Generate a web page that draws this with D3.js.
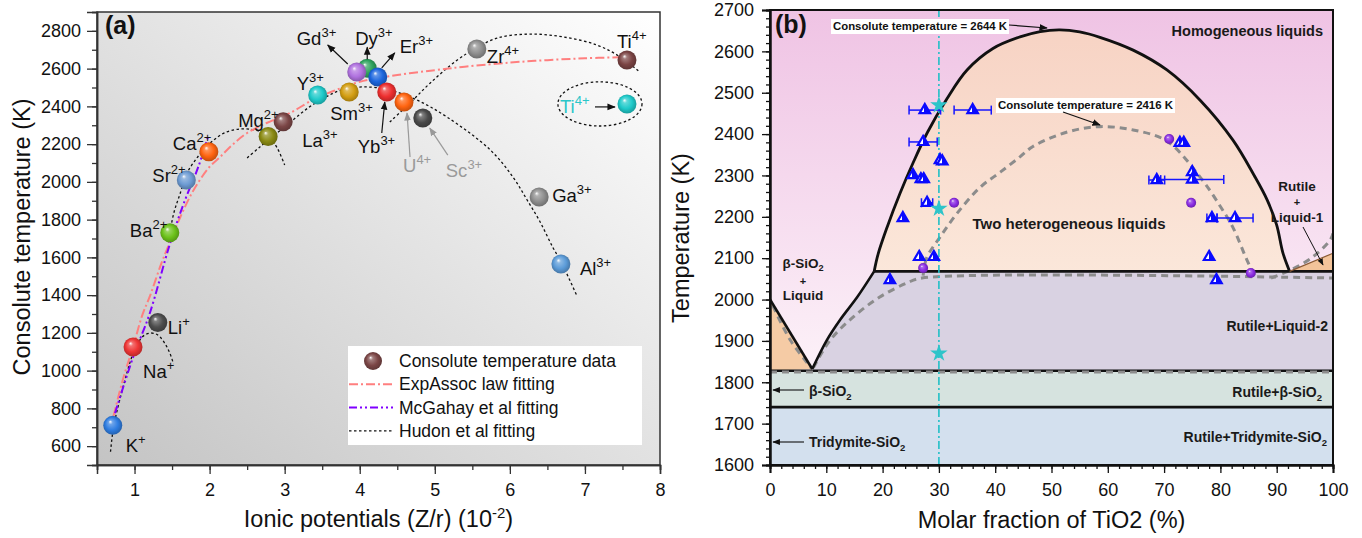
<!DOCTYPE html>
<html>
<head>
<meta charset="utf-8">
<script src="https://cdn.jsdelivr.net/npm/d3@7"></script>
<style>
  body { margin: 0; background: #fff; }
  svg text { font-family: Arial, "Liberation Sans", sans-serif; }
</style>
</head>
<body>
<svg id="chart" width="1362" height="538"></svg>
<script>
// ---------- panel (a) data ----------
const ionNames = ["K","Na","Li","Ba","Sr","Ca","Mg","La","Y","Sm","Dy","Er","Gd","Yb","U","Sc","Zr","Ti","Ga","Al","Ti"];
const ionCharges = ["+","+","+","2+","2+","2+","2+","3+","3+","3+","3+","3+","3+","3+","4+","3+","4+","4+","3+","3+","4+"];
const ionicPotential = [0.71,0.98,1.31,1.47,1.69,1.99,2.78,2.98,3.44,3.86,4.10,4.24,3.96,4.36,4.59,4.84,5.56,7.56,6.39,6.68,7.56];
const consoluteTemp = [710,1125,1255,1730,2010,2160,2240,2318,2460,2476,2602,2556,2582,2476,2423,2338,2704,2646,1920,1565,2413];

const expAssocFit = [[0.72,760],[0.85,960],[0.98,1125],[1.1,1290],[1.21,1400],[1.35,1560],[1.47,1680],[1.61,1814],[1.75,1930],[1.87,2010],[2.0,2080],[2.14,2132],[2.3,2195],[2.5,2259],[2.76,2312],[3.07,2365],[3.4,2440],[3.64,2480],[4.0,2530],[4.5,2566],[5.0,2592],[5.4,2610],[6.0,2632],[6.5,2645],[7.0,2655],[7.45,2660]];
const mcGahayFit = [[0.74,775],[0.98,1070],[1.2,1300],[1.47,1670],[1.65,1880],[1.85,2080],[1.98,2240]];
const hudonMono = [[0.68,570],[0.72,700],[0.8,840],[0.9,990],[0.98,1090],[1.07,1162],[1.14,1190],[1.21,1199],[1.28,1195],[1.34,1178],[1.41,1140],[1.47,1093],[1.52,1035]];
const hudonDi = [[1.45,1680],[1.52,1830],[1.61,1941],[1.7,2047],[1.8,2110],[1.9,2160],[2.05,2220],[2.2,2260],[2.4,2280],[2.58,2277],[2.7,2262],[2.8,2235],[2.9,2180],[3.0,2090]];
const hudonTri = [[2.5,2127],[2.67,2185],[2.9,2259],[3.11,2328],[3.34,2400],[3.55,2450],[3.74,2485],[4.04,2503],[4.4,2487],[4.76,2434],[5.16,2344],[5.74,2169],[6.04,2026],[6.23,1904],[6.4,1790],[6.57,1655],[6.69,1570],[6.9,1390]];
const hudonTetra = [[4.4,2317],[4.67,2418],[4.94,2524],[5.3,2646],[5.51,2699],[5.83,2762],[6.27,2783],[6.71,2768],[7.16,2725],[7.47,2662],[7.73,2582]];
const tiOutlier = { center: [7.2, 2413], radius: [0.56, 117] };

const legendItems = ["Consolute temperature data", "ExpAssoc law fitting", "McGahay et al fitting", "Hudon et al fitting"];
const xTicksA = [1,2,3,4,5,6,7,8];
const yTicksA = [600,800,1000,1200,1400,1600,1800,2000,2200,2400,2600,2800];

// ---------- panel (b) data ----------
const triFrac = [27.5,36.0,27.2,30.2,30.6,25.4,26.8,27.3,27.9,23.6,26.5,29.1,21.3,72.8,73.5,68.7,75.0,75.0,78.5,82.6,78.0,79.3];
const triTemp = [2458,2458,2381,2337,2334,2301,2291,2291,2234,2197,2103,2103,2047,2379,2379,2289,2308,2290,2197,2197,2103,2047];
const triErr  = [2.8,3.3,2.5,0,0,0,0,0,1.0,0,0,0,0,0,0,1.4,0,5.6,0.9,3.2,0,0];
const ballFrac = [32.7,27.2,70.9,74.8,85.4];
const ballTemp = [2234,2076,2388,2234,2064];
const starFrac = [30,30,30];
const starTemp = [2470,2220,1870];

const domeSolid = [[18.5,2068],[19.2,2110],[20.8,2175],[23.1,2257],[25.4,2330],[28,2405],[31.4,2485],[35,2555],[39.6,2607],[44.4,2635],[48,2648],[51.5,2652],[55,2647],[58.6,2634],[64.5,2603],[70.5,2555],[76.4,2482],[82.2,2386],[86,2300],[88.3,2241],[90,2180],[91.1,2113],[92.3,2068]];
const liquidusLeft = [[0,2000],[7.5,1832]];
const liquidusRise = [[7.5,1832],[10.1,1902],[12.4,1950],[15.5,2006],[18.5,2068]];
const liquid2Corners = [[100,2068],[100,1828],[7.5,1828]];
const eutecticLine = [[18.5,2068],[100,2068]];
const solidusLine = [[0,1828],[100,1828]];
const transitionLine = [[0,1740],[100,1740]];
const wedgeLiquid1 = [[92.3,2068],[100,2068],[100,2112]];
const grayLeft = [[0.5,1985],[3.6,1902],[6.6,1847],[7.2,1835]];
const grayLower = [[7.7,1835],[10.7,1902],[14.8,1958],[19.5,2006],[24.3,2040],[27,2052],[100,2052]];
const grayDome = [[27.2,2058],[27.8,2100],[30.2,2151],[33.2,2208],[37.3,2271],[40.9,2308],[44.4,2345],[46.7,2370],[52.8,2405],[58.6,2418],[64.5,2410],[70.5,2383],[76.4,2296],[80,2225],[82.2,2175],[84.7,2096],[86,2058]];
const grayRight = [[89,2052],[92.4,2071],[96.4,2103],[99.5,2144],[100,2160]];
const graySolidus = [[0,1825],[100,1825]];
const cutLine = [[30,1600],[30,2700]];
const xTicksB = [0,10,20,30,40,50,60,70,80,90,100];
const yTicksB = [1600,1700,1800,1900,2000,2100,2200,2300,2400,2500,2600,2700];

// ---------- setup ----------
const svg = d3.select("#chart");
const defs = svg.append("defs");

function sphereFill(color) {
  const id = "sph" + color.replace("#", "");
  if (defs.select("#" + id).empty()) {
    const g = defs.append("radialGradient").attr("id", id)
      .attr("cx", 0.5).attr("cy", 0.5).attr("r", 0.55).attr("fx", 0.36).attr("fy", 0.3);
    g.append("stop").attr("offset", "0%").attr("stop-color", "#ffffff");
    g.append("stop").attr("offset", "20%").attr("stop-color", d3.interpolateRgb(color, "#fff")(0.3));
    g.append("stop").attr("offset", "60%").attr("stop-color", color);
    g.append("stop").attr("offset", "100%").attr("stop-color", d3.color(color).darker(0.9));
  }
  return `url(#${id})`;
}

function addMarker(id, color) {
  defs.append("marker").attr("id", id).attr("viewBox", "0 0 10 10")
    .attr("refX", 9).attr("refY", 5).attr("markerWidth", 7).attr("markerHeight", 7)
    .attr("orient", "auto").append("path").attr("d", "M0,1L10,5L0,9z").attr("fill", color);
}
addMarker("arrowK", "#111");
addMarker("arrowG", "#999");

// half-filled triangle look of the measured points
const triGrad = defs.append("linearGradient").attr("id", "triFill");
[["0%", "#fff"], ["45%", "#fff"], ["45%", "#0a0aff"], ["100%", "#0a0aff"]].forEach(s =>
  triGrad.append("stop").attr("offset", s[0]).attr("stop-color", s[1]));

// ================= panel (a) =================
const xA = d3.scaleLinear().domain([0.5, 8]).range([97, 660]);
const yA = d3.scaleLinear().domain([500, 2900]).range([465, 12]);

const bgA = defs.append("linearGradient").attr("id", "bgA")
  .attr("x1", 0).attr("y1", 1).attr("x2", 1).attr("y2", 0);
bgA.append("stop").attr("offset", "0%").attr("stop-color", "#c4c4c4");
bgA.append("stop").attr("offset", "100%").attr("stop-color", "#ffffff");

const gA = svg.append("g");
gA.append("rect").attr("x", xA(0.5)).attr("y", yA(2900))
  .attr("width", xA(8) - xA(0.5)).attr("height", yA(500) - yA(2900))
  .attr("fill", "url(#bgA)");

defs.append("clipPath").attr("id", "clipA").append("rect")
  .attr("x", xA(0.5)).attr("y", yA(2900)).attr("width", xA(8) - xA(0.5)).attr("height", yA(500) - yA(2900));

const lineA = d3.line().x(d => xA(d[0])).y(d => yA(d[1])).curve(d3.curveCatmullRom.alpha(0.5));
const curves = gA.append("g").attr("clip-path", "url(#clipA)");
[hudonMono, hudonDi, hudonTri, hudonTetra].forEach(c => {
  curves.append("path").attr("d", lineA(c)).attr("fill", "none")
    .attr("stroke", "#111").attr("stroke-width", 1.3).attr("stroke-dasharray", "2.5,2.5");
});
curves.append("path").attr("d", lineA(expAssocFit)).attr("fill", "none")
  .attr("stroke", "#ff7f7f").attr("stroke-width", 2).attr("stroke-dasharray", "9,3,2,3");
curves.append("path").attr("d", lineA(mcGahayFit)).attr("fill", "none")
  .attr("stroke", "#7f00ff").attr("stroke-width", 2).attr("stroke-dasharray", "8,3,2,3,2,3");
curves.append("ellipse")
  .attr("cx", xA(tiOutlier.center[0])).attr("cy", yA(tiOutlier.center[1]))
  .attr("rx", xA(tiOutlier.center[0] + tiOutlier.radius[0]) - xA(tiOutlier.center[0]))
  .attr("ry", yA(tiOutlier.center[1] - tiOutlier.radius[1]) - yA(tiOutlier.center[1]))
  .attr("fill", "none").attr("stroke", "#111").attr("stroke-width", 1.3).attr("stroke-dasharray", "2.5,2.5");

const ionColors = ["#2f7de1","#ee3535","#4d4d4d","#6cc21a","#6d9bd3","#ff6410","#8a8a12","#7b4646","#1fcaca","#d39e12","#2fa35e","#1c66de","#b072df","#ee2f2f","#ff6410","#4a4a4a","#8f8f8f","#7b4444","#8f8f8f","#5b9bd8","#1fcaca"];
const labelOffsets = [[13,27],[10,31],[10,12],[-40,4],[-34,2],[-36,-2],[-30,-10],[19,25],[-21,-5],[-19,28],[-12,-23],[22,-24],[-60,-27],[-29,61],[-1,70],[23,59],[10,14],[-10,-12],[13,5],[19,11],[-67,9]];
const labelColors = ionNames.map((n, i) => i === 14 || i === 15 ? "#9a9a9a" : i === 20 ? "#2bc6c9" : "#111");
const labelArrows = { 10: [0,-9,0,-21], 11: [4,-9,17,-24], 12: [-9,-8,-29,-27], 13: [-5,41,-2,10], 14: [6,55,3,11], 15: [25,37,7,10], 20: [-32,3,-12,3] };

const ionData = ionNames.map((n, i) => ({ name: n, charge: ionCharges[i], x: ionicPotential[i], y: consoluteTemp[i], i }));

gA.append("g").selectAll("circle").data(ionData).join("circle")
  .attr("cx", d => xA(d.x)).attr("cy", d => yA(d.y)).attr("r", 9.5)
  .attr("fill", d => sphereFill(ionColors[d.i]));

Object.entries(labelArrows).forEach(([k, a]) => {
  const d = ionData[+k];
  const px = xA(d.x), py = yA(d.y);
  const gray = labelColors[d.i] === "#9a9a9a";
  gA.append("line").attr("x1", px + a[0]).attr("y1", py + a[1]).attr("x2", px + a[2]).attr("y2", py + a[3])
    .attr("stroke", gray ? "#999" : "#111").attr("stroke-width", 1.2)
    .attr("marker-end", gray ? "url(#arrowG)" : "url(#arrowK)");
});

const lbl = gA.append("g").selectAll("text").data(ionData).join("text")
  .attr("x", d => xA(d.x) + labelOffsets[d.i][0]).attr("y", d => yA(d.y) + labelOffsets[d.i][1])
  .attr("font-size", 18.5).attr("fill", d => labelColors[d.i]);
lbl.append("tspan").text(d => d.name);
lbl.append("tspan").attr("dy", -8).attr("font-size", 13).text(d => d.charge);

// legend
const lg = gA.append("g");
lg.append("rect").attr("x", 348).attr("y", 346).attr("width", 294).attr("height", 99).attr("fill", "#fff");
const legendStyles = [
  null,
  { c: "#ff7f7f", dash: "9,3,2,3" },
  { c: "#7f00ff", dash: "8,3,2,3,2,3" },
  { c: "#111", dash: "2.5,2.5", w: 1.3 }
];
legendItems.forEach((t, i) => {
  const yy = 361 + i * 23.3;
  if (i === 0) {
    lg.append("circle").attr("cx", 373).attr("cy", yy).attr("r", 9).attr("fill", sphereFill("#7b4646"));
  } else {
    const s = legendStyles[i];
    lg.append("line").attr("x1", 349).attr("x2", 393).attr("y1", yy).attr("y2", yy)
      .attr("stroke", s.c).attr("stroke-width", s.w || 2).attr("stroke-dasharray", s.dash);
  }
  lg.append("text").attr("x", 399).attr("y", yy).attr("dy", "0.35em").attr("font-size", 17.5).attr("fill", "#111").text(t);
});

// frame and axes
gA.append("rect").attr("x", xA(0.5)).attr("y", yA(2900))
  .attr("width", xA(8) - xA(0.5)).attr("height", yA(500) - yA(2900))
  .attr("fill", "none").attr("stroke", "#333").attr("stroke-width", 1.5);

function styleAxis(g, color, fs) {
  g.attr("font-family", "Arial, 'Liberation Sans', sans-serif").attr("font-size", fs);
  g.selectAll("path.domain").attr("stroke", color).attr("stroke-width", 1.5);
  g.selectAll(".tick line").attr("stroke", color).attr("stroke-width", 1.3);
  g.selectAll(".tick text").attr("fill", "#111");
}
const minorXA = d3.range(0.5, 8.01, 0.5);
const minorYA = d3.range(500, 2901, 100);
gA.append("g").attr("transform", `translate(0,${yA(500)})`)
  .call(d3.axisBottom(xA).tickValues(minorXA).tickSize(5).tickFormat(""))
  .call(g => styleAxis(g, "#333", 18));
gA.append("g").attr("transform", `translate(0,${yA(500)})`)
  .call(d3.axisBottom(xA).tickValues(xTicksA).tickSize(9).tickPadding(9).tickFormat(d3.format("d")))
  .call(g => styleAxis(g, "#333", 18));
gA.append("g").attr("transform", `translate(${xA(0.5)},0)`)
  .call(d3.axisLeft(yA).tickValues(minorYA).tickSize(5).tickFormat(""))
  .call(g => styleAxis(g, "#333", 18));
gA.append("g").attr("transform", `translate(${xA(0.5)},0)`)
  .call(d3.axisLeft(yA).tickValues(yTicksA).tickSize(10).tickPadding(6).tickFormat(d3.format("d")))
  .call(g => styleAxis(g, "#333", 18));

gA.append("text").attr("transform", "translate(30,237) rotate(-90)").attr("text-anchor", "middle")
  .attr("font-size", 23.5).attr("fill", "#111").text("Consolute temperature (K)");
const xtA = gA.append("text").attr("x", xA(4.25)).attr("y", 527).attr("text-anchor", "middle")
  .attr("font-size", 23.5).attr("fill", "#111");
xtA.append("tspan").text("Ionic potentials (Z/r) (10");
xtA.append("tspan").attr("dy", -9).attr("font-size", 15).text("-2");
xtA.append("tspan").attr("dy", 9).text(")");
gA.append("text").attr("x", 105).attr("y", 34).attr("font-family", "'Times New Roman', 'Liberation Serif', serif")
  .attr("font-weight", "bold").attr("font-size", 25).attr("fill", "#111").text("(a)");

// ================= panel (b) =================
const xB = d3.scaleLinear().domain([0, 100]).range([770, 1333]);
const yB = d3.scaleLinear().domain([1600, 2700]).range([465, 10]);
const gB = svg.append("g");
defs.append("clipPath").attr("id", "clipB").append("rect")
  .attr("x", xB(0)).attr("y", yB(2700)).attr("width", xB(100) - xB(0)).attr("height", yB(1600) - yB(2700));

const pinkGrad = defs.append("linearGradient").attr("id", "pinkGrad").attr("gradientUnits", "userSpaceOnUse")
  .attr("x1", 0).attr("y1", yB(2700)).attr("x2", 0).attr("y2", yB(1828));
pinkGrad.append("stop").attr("offset", "0%").attr("stop-color", "#efc3e4");
pinkGrad.append("stop").attr("offset", "100%").attr("stop-color", "#fcf1f8");
const peachGrad = defs.append("linearGradient").attr("id", "peachGrad").attr("gradientUnits", "userSpaceOnUse")
  .attr("x1", 0).attr("y1", yB(2650)).attr("x2", 0).attr("y2", yB(2068));
peachGrad.append("stop").attr("offset", "0%").attr("stop-color", "#f7d3c4");
peachGrad.append("stop").attr("offset", "100%").attr("stop-color", "#fbe7da");

const lineB = d3.line().x(d => xB(d[0])).y(d => yB(d[1]));
const smoothB = d3.line().x(d => xB(d[0])).y(d => yB(d[1])).curve(d3.curveCatmullRom.alpha(0.5));
const fills = gB.append("g").attr("clip-path", "url(#clipB)");

function band(lo, hi, fill) {
  fills.append("rect").attr("x", xB(0)).attr("y", yB(hi)).attr("width", xB(100) - xB(0))
    .attr("height", yB(lo) - yB(hi)).attr("fill", fill);
}
band(1828, 2700, "url(#pinkGrad)");
band(1740, 1828, "#d6e3df");
band(1600, 1740, "#d3e0ee");
fills.append("path")
  .attr("d", smoothB(liquidusRise) + liquid2Corners.map(p => `L${xB(p[0])},${yB(p[1])}`).join("") + "Z")
  .attr("fill", "#d9d2e2");
fills.append("path").attr("d", smoothB(domeSolid) + "Z").attr("fill", "url(#peachGrad)");
fills.append("path").attr("d", lineB([[0,1828]].concat(liquidusLeft)) + "Z").attr("fill", "#f5cba5");
fills.append("path").attr("d", lineB(wedgeLiquid1) + "Z").attr("fill", "#f3c39a");

const lines = gB.append("g").attr("clip-path", "url(#clipB)");
function grayDash(pts) {
  lines.append("path").attr("d", smoothB(pts)).attr("fill", "none").attr("stroke", "#8c8c8c")
    .attr("stroke-width", 3).attr("stroke-dasharray", "7,5");
}
lines.append("path").attr("d", lineB(solidusLine)).attr("stroke", "#111").attr("stroke-width", 2.4);
[grayLeft, grayLower, grayDome, grayRight, graySolidus].forEach(grayDash);
lines.append("path").attr("d", lineB(transitionLine)).attr("stroke", "#111").attr("stroke-width", 2.6);
lines.append("path").attr("d", lineB(eutecticLine)).attr("stroke", "#111").attr("stroke-width", 2.6);
lines.append("path").attr("d", lineB(liquidusLeft)).attr("fill", "none").attr("stroke", "#111").attr("stroke-width", 2.6);
lines.append("path").attr("d", smoothB(liquidusRise)).attr("fill", "none").attr("stroke", "#111").attr("stroke-width", 2.6);
lines.append("path").attr("d", smoothB(domeSolid)).attr("fill", "none").attr("stroke", "#111").attr("stroke-width", 2.8);
lines.append("path").attr("d", lineB([wedgeLiquid1[0], wedgeLiquid1[2]])).attr("stroke", "#8a5a34").attr("stroke-width", 1.2);
lines.append("path").attr("d", lineB(cutLine)).attr("stroke", "#22bfc6").attr("stroke-width", 1.6)
  .attr("stroke-dasharray", "8,3,2,3");

// data marks (b)
const triData = triFrac.map((x, i) => ({ x, y: triTemp[i], e: triErr[i] }));
const marks = gB.append("g");
marks.selectAll("g.err").data(triData.filter(d => d.e > 0)).join("g").attr("class", "err")
  .each(function (d) {
    const g = d3.select(this);
    g.append("line").attr("x1", xB(d.x - d.e)).attr("x2", xB(d.x + d.e)).attr("y1", yB(d.y)).attr("y2", yB(d.y));
    [d.x - d.e, d.x + d.e].forEach(v => g.append("line").attr("x1", xB(v)).attr("x2", xB(v))
      .attr("y1", yB(d.y) - 4.5).attr("y2", yB(d.y) + 4.5));
  }).attr("stroke", "#1515ff").attr("stroke-width", 1.5);
marks.selectAll("path.tri").data(triData).join("path").attr("class", "tri")
  .attr("transform", d => `translate(${xB(d.x)},${yB(d.y)})`)
  .attr("d", d3.symbol(d3.symbolTriangle, 48))
  .attr("fill", "url(#triFill)").attr("stroke", "#0a0aff").attr("stroke-width", 2.2);
marks.selectAll("circle").data(ballFrac.map((x, i) => ({ x, y: ballTemp[i] }))).join("circle")
  .attr("cx", d => xB(d.x)).attr("cy", d => yB(d.y)).attr("r", 5)
  .attr("fill", sphereFill("#8a2be2"));
marks.selectAll("path.star").data(starFrac.map((x, i) => ({ x, y: starTemp[i] }))).join("path").attr("class", "star")
  .attr("transform", d => `translate(${xB(d.x)},${yB(d.y)})`)
  .attr("d", d3.symbol(d3.symbolStar, 95)).attr("fill", "#2ec4c9");

// annotations (b)
function boxedNote(x, y, w, txt) {
  gB.append("rect").attr("x", x - 2).attr("y", y - 11).attr("width", w + 4).attr("height", 15).attr("fill", "#fff");
  gB.append("text").attr("x", x).attr("y", y).attr("font-size", 11.5).attr("font-weight", "bold")
    .attr("textLength", w).attr("lengthAdjust", "spacingAndGlyphs").attr("fill", "#111").text(txt);
}
boxedNote(833, 30, 174, "Consolute temperature = 2644 K");
boxedNote(998, 109, 175, "Consolute temperature = 2416 K");
gB.append("line").attr("x1", 1009).attr("y1", 25).attr("x2", 1047).attr("y2", 28)
  .attr("stroke", "#111").attr("stroke-width", 1.2).attr("marker-end", "url(#arrowK)");
gB.append("line").attr("x1", 1063).attr("y1", 112).attr("x2", 1100).attr("y2", 125)
  .attr("stroke", "#111").attr("stroke-width", 1.2).attr("marker-end", "url(#arrowK)");
gB.append("line").attr("x1", 1303).attr("y1", 227).attr("x2", 1323).attr("y2", 265)
  .attr("stroke", "#111").attr("stroke-width", 1).attr("marker-end", "url(#arrowK)");
gB.append("line").attr("x1", 804).attr("y1", 390).attr("x2", 773).attr("y2", 390)
  .attr("stroke", "#111").attr("stroke-width", 1.1).attr("marker-end", "url(#arrowK)");
gB.append("line").attr("x1", 804).attr("y1", 442).attr("x2", 773).attr("y2", 442)
  .attr("stroke", "#111").attr("stroke-width", 1.1).attr("marker-end", "url(#arrowK)");

function boldText(x, y, anchor, size, parts) {
  const t = gB.append("text").attr("x", x).attr("y", y).attr("text-anchor", anchor)
    .attr("font-size", size).attr("font-weight", "bold").attr("fill", "#1a1a1a");
  parts.forEach(p => {
    if (typeof p === "string") t.append("tspan").text(p);
    else t.append("tspan").attr("dy", p.dy).attr("font-size", size * 0.68).text(p.t);
  });
}
boldText(1323, 36, "end", 14.5, ["Homogeneous liquids"]);
boldText(1069, 229, "middle", 15, ["Two heterogeneous liquids"]);
boldText(1297, 191, "middle", 13.5, ["Rutile"]);
boldText(1297, 206, "middle", 11, ["+"]);
boldText(1297, 222, "middle", 13.5, ["Liquid-1"]);
boldText(803, 268, "middle", 13.5, ["β-SiO", { t: "2", dy: 3 }]);
boldText(803, 285, "middle", 11, ["+"]);
boldText(803, 300, "middle", 13.5, ["Liquid"]);
boldText(1328, 331, "end", 14, ["Rutile+Liquid-2"]);
boldText(1322, 397, "end", 14, ["Rutile+β-SiO", { t: "2", dy: 4 }]);
boldText(1327, 442, "end", 14, ["Rutile+Tridymite-SiO", { t: "2", dy: 4 }]);
boldText(809, 396, "start", 14, ["β-SiO", { t: "2", dy: 4 }]);
boldText(809, 447, "start", 14, ["Tridymite-SiO", { t: "2", dy: 4 }]);

// frame and axes (b)
gB.append("rect").attr("x", xB(0)).attr("y", yB(2700)).attr("width", xB(100) - xB(0))
  .attr("height", yB(1600) - yB(2700)).attr("fill", "none").attr("stroke", "#111").attr("stroke-width", 2);
const minorXB = d3.range(0, 100.1, 2);
const minorYB = d3.range(1600, 2701, 20);
gB.append("g").attr("transform", `translate(0,${yB(1600)})`)
  .call(d3.axisBottom(xB).tickValues(minorXB).tickSize(4).tickFormat(""))
  .call(g => styleAxis(g, "#111", 18));
gB.append("g").attr("transform", `translate(0,${yB(1600)})`)
  .call(d3.axisBottom(xB).tickValues(xTicksB).tickSize(8).tickPadding(10).tickFormat(d3.format("d")))
  .call(g => styleAxis(g, "#111", 18));
gB.append("g").attr("transform", `translate(${xB(0)},0)`)
  .call(d3.axisLeft(yB).tickValues(minorYB).tickSize(4).tickFormat(""))
  .call(g => styleAxis(g, "#111", 18));
gB.append("g").attr("transform", `translate(${xB(0)},0)`)
  .call(d3.axisLeft(yB).tickValues(yTicksB).tickSize(8).tickPadding(8).tickFormat(d3.format("d")))
  .call(g => styleAxis(g, "#111", 18));
gB.selectAll("path.domain").attr("stroke-width", 2);

gB.append("text").attr("transform", "translate(689,238) rotate(-90)").attr("text-anchor", "middle")
  .attr("font-size", 23.5).attr("fill", "#111").text("Temperature (K)");
gB.append("text").attr("x", xB(50)).attr("y", 528).attr("text-anchor", "middle")
  .attr("font-size", 23.5).attr("fill", "#111").text("Molar fraction of TiO2 (%)");
gB.append("text").attr("x", 775).attr("y", 33).attr("font-family", "'Times New Roman', 'Liberation Serif', serif")
  .attr("font-weight", "bold").attr("font-size", 25).attr("fill", "#111").text("(b)");
</script>
</body>
</html>
